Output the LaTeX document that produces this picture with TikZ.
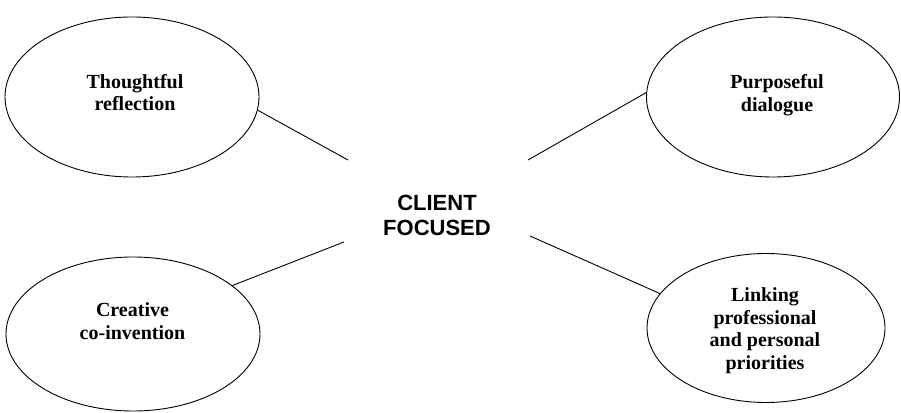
\documentclass[tikz,border=0pt]{standalone}
\usepackage{fontspec}
\setmainfont{Liberation Serif}
\setsansfont{Liberation Sans}
\usetikzlibrary{shapes.geometric}
\begin{document}
\begin{tikzpicture}[x=1pt,y=1pt,
  idea/.style={ellipse, draw, line width=0.9pt, inner sep=0pt},
  ideatext/.style={align=center, inner sep=0pt,
    font=\fontsize{20}{22.5}\selectfont\bfseries},
  hub/.style={align=center, inner sep=0pt,
    font=\fontsize{22}{25}\selectfont\sffamily\bfseries},
  link/.style={line width=0.9pt}]
\useasboundingbox (0,0) rectangle (901,412);
% four ellipses around the central label
\node[idea, minimum width=254, minimum height=160] (tl) at (132,315) {};
\node[idea, minimum width=253, minimum height=160] (tr) at (773,315) {};
\node[idea, minimum width=254, minimum height=154] (bl) at (133,78) {};
\node[idea, minimum width=238, minimum height=149] (br) at (766,84) {};
% their labels
\node[ideatext] (tlt) at (135,319.5) {Thoughtful\\reflection};
\node[ideatext] (trt) at (777,317) {Purposeful\\dialogue};
\node[ideatext] (blt) at (132.5,91) {Creative\\co-invention};
\node[ideatext] (brt) at (765,81.5) {Linking\\professional\\and personal\\priorities};
% central label
\node[hub] (c) at (437,197) {CLIENT\\FOCUSED};
% free ends of the connectors near the centre
\coordinate (ctl) at (348,252);
\coordinate (ctr) at (528,252);
\coordinate (cbl) at (344,170);
\coordinate (cbr) at (530,176);
\draw[link] (tl.-6) -- (ctl);
\draw[link] (tr.178) -- (ctr);
\draw[link] (bl.26) -- (cbl);
\draw[link] (br.162) -- (cbr);
\end{tikzpicture}
\end{document}
